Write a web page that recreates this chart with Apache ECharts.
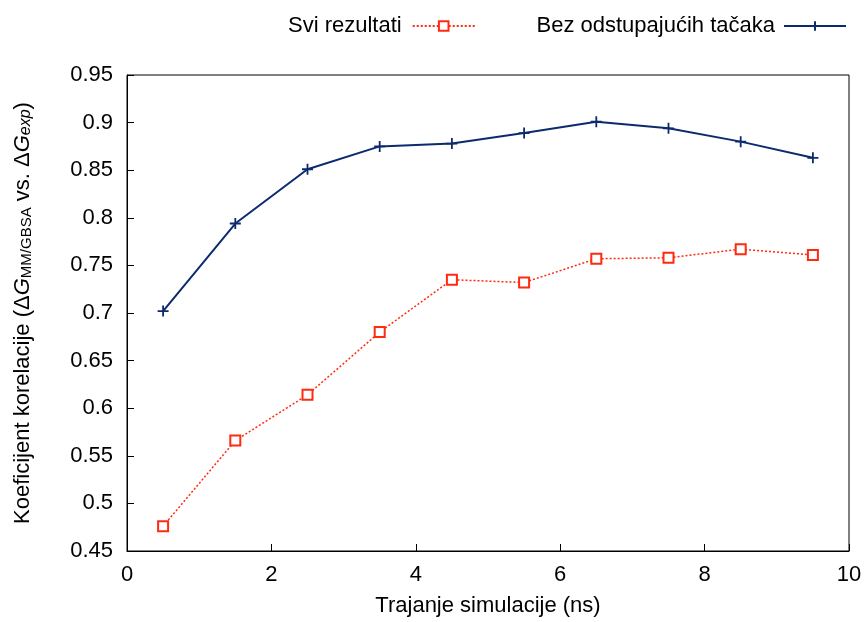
<!DOCTYPE html>
<html><head><meta charset="utf-8">
<script src="https://cdn.jsdelivr.net/npm/echarts@6/dist/echarts.min.js"></script>
<style>html,body{margin:0;padding:0;background:#fff}#c{width:867px;height:622px}</style>
</head><body><div id="c"></div>
<script>
const xValues = [0.5, 1.5, 2.5, 3.5, 4.5, 5.5, 6.5, 7.5, 8.5, 9.5];
const sviRezultati = [0.476, 0.566, 0.614, 0.680, 0.735, 0.732, 0.757, 0.758, 0.767, 0.761];
const bezOdstupajucih = [0.702, 0.794, 0.851, 0.875, 0.878, 0.889, 0.901, 0.894, 0.880, 0.863];
const seriesNames = ['Svi rezultati', 'Bez odstupajućih tačaka'];
const xTitle = 'Trajanje simulacije (ns)';

const FONT = 'Liberation Sans, Arial, sans-serif';
const FS = 22;
const chart = echarts.init(document.getElementById('c'));
const pair = (xs, ys) => xs.map((x, i) => [x, ys[i]]);
chart.setOption({
  animation: false,
  textStyle: { fontFamily: FONT, color: '#000' },
  grid: { left: 127, right: 18, top: 75, bottom: 70, show: true, borderColor: '#000', borderWidth: 1, backgroundColor: 'transparent' },
  legend: [
    { data: [seriesNames[0]], left: 283, top: 10, align: 'right', itemWidth: 62, itemHeight: 12,
      textStyle: { fontSize: FS, color: '#000', fontFamily: FONT, padding: [0, 6, 0, 0] } },
    { data: [seriesNames[1]], right: 15, top: 10, align: 'right', itemWidth: 62, itemHeight: 12,
      textStyle: { fontSize: FS, color: '#000', fontFamily: FONT, padding: [0, 4, 0, 0] } }
  ],
  xAxis: {
    type: 'value', min: 0, max: 10, interval: 2,
    name: xTitle, nameLocation: 'middle', nameGap: 44,
    nameTextStyle: { fontSize: FS, color: '#000', fontFamily: FONT },
    axisLine: { show: true, lineStyle: { color: '#000', width: 1 } },
    axisTick: { show: true, inside: true, length: 7, lineStyle: { color: '#000' } },
    axisLabel: { fontSize: FS, color: '#000', margin: 13, fontFamily: FONT },
    splitLine: { show: false }
  },
  yAxis: {
    type: 'value', min: 0.45, max: 0.95, interval: 0.05,
    name: '{n|Koeficijent korelacije (Δ}{i|G}{s|MM/GBSA}{n| vs. Δ}{i|G}{si|exp}{n|)}',
    nameLocation: 'middle', nameGap: 93, nameRotate: 90,
    nameTextStyle: {
      fontSize: FS, color: '#000', fontFamily: FONT,
      rich: {
        n: { fontSize: FS, color: '#000', fontFamily: FONT, verticalAlign: 'bottom', lineHeight: 27 },
        i: { fontSize: FS, color: '#000', fontFamily: FONT, fontStyle: 'italic', verticalAlign: 'bottom', lineHeight: 27 },
        s: { fontSize: 15, color: '#000', fontFamily: FONT, verticalAlign: 'bottom', lineHeight: 16 },
        si: { fontSize: 16, color: '#000', fontFamily: FONT, fontStyle: 'italic', verticalAlign: 'bottom', lineHeight: 16 }
      }
    },
    axisLine: { show: true, lineStyle: { color: '#000', width: 1 } },
    axisTick: { show: true, inside: true, length: 7, lineStyle: { color: '#000' } },
    axisLabel: { fontSize: FS, color: '#000', margin: 14, fontFamily: FONT,
      formatter: v => String(parseFloat(v.toFixed(2))) },
    splitLine: { show: false }
  },
  series: [
    { name: seriesNames[0], type: 'line', data: pair(xValues, sviRezultati),
      symbol: 'emptyRect', symbolSize: 10,
      lineStyle: { color: '#ff2a10', width: 1.5, type: [2, 2] },
      itemStyle: { color: '#ff2a10', borderColor: '#ff2a10', borderWidth: 2.2 } },
    { name: seriesNames[1], type: 'line', data: pair(xValues, bezOdstupajucih),
      symbol: 'path://M5 0 L5 10 M0 5 L10 5', symbolSize: 11,
      lineStyle: { color: '#0c2a6e', width: 2 },
      itemStyle: { color: '#0c2a6e', borderColor: '#0c2a6e', borderWidth: 1.8 } }
  ]
});
</script></body></html>
